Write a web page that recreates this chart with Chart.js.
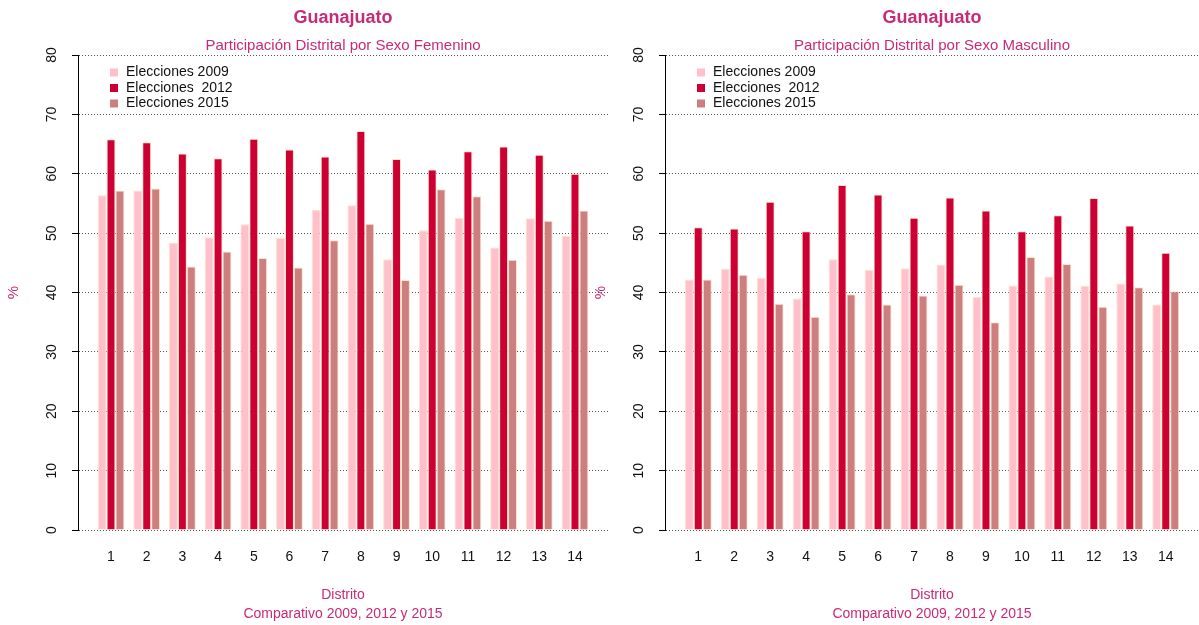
<!DOCTYPE html>
<html>
<head>
<meta charset="utf-8">
<script src="https://cdn.jsdelivr.net/npm/chart.js@4/dist/chart.umd.min.js"></script>
<style>
  html, body { margin: 0; padding: 0; background: #fff; overflow: hidden; }
  .panel { position: absolute; top: 0; }
</style>
</head>
<body>
<div class="panel" style="left:0px"><canvas id="chartFem" width="608" height="625"></canvas></div>
<div class="panel" style="left:587px"><canvas id="chartMas" width="612" height="625"></canvas></div>
<script>
const distritos = [1, 2, 3, 4, 5, 6, 7, 8, 9, 10, 11, 12, 13, 14];
const yTicks = [0, 10, 20, 30, 40, 50, 60, 70, 80];
const series = ['Elecciones 2009', 'Elecciones  2012', 'Elecciones 2015'];
const colores = ['#ffc0cb', '#cc0033', '#cd7f7f'];

// participacion femenina por distrito (%)
const fem2009 = [56.4, 57.2, 48.4, 49.3, 51.5, 49.2, 53.9, 54.7, 45.6, 50.5, 52.6, 47.6, 52.5, 49.5];
const fem2012 = [65.8, 65.3, 63.4, 62.6, 65.9, 64.1, 62.9, 67.2, 62.5, 60.7, 63.8, 64.6, 63.2, 60.0];
const fem2015 = [57.2, 57.5, 44.4, 46.9, 45.8, 44.2, 48.8, 51.6, 42.1, 57.4, 56.2, 45.5, 52.1, 53.8];

// participacion masculina por distrito (%)
const mas2009 = [42.2, 44.0, 42.5, 39.0, 45.6, 43.8, 44.1, 44.7, 39.3, 41.2, 42.7, 41.1, 41.5, 38.0];
const mas2012 = [51.0, 50.8, 55.3, 50.3, 58.1, 56.5, 52.6, 56.0, 53.8, 50.3, 53.0, 55.9, 51.3, 46.7];
const mas2015 = [42.2, 43.0, 38.1, 35.9, 39.7, 38.0, 39.5, 41.3, 35.0, 46.0, 44.8, 37.6, 40.9, 40.2];

const rosa = '#c82a7a';
Chart.defaults.font.family = "'Liberation Sans', Arial, sans-serif";
Chart.defaults.color = '#111';

// legend drawn inside the plot, top-left corner
const innerLegend = {
  id: 'innerLegend',
  afterDraw(chart) {
    const {ctx, chartArea} = chart;
    ctx.save();
    ctx.font = "14px 'Liberation Sans', Arial, sans-serif";
    ctx.textBaseline = 'middle';
    ctx.textAlign = 'left';
    chart.data.datasets.forEach((ds, i) => {
      const y = chartArea.top + 17.5 + i * 15.5;
      ctx.fillStyle = ds.backgroundColor;
      ctx.fillRect(chartArea.left + 32, y - 4, 8, 8);
      ctx.fillStyle = '#111';
      ctx.fillText(ds.label, chartArea.left + 48, y);
    });
    ctx.restore();
  }
};

function generateChart(chartName, subtitulo, valores) {
  const ctx = document.getElementById(chartName).getContext('2d');
  return new Chart(ctx, {
    type: 'bar',
    data: {
      datasets: valores.map((vals, i) => ({
        label: series[i],
        data: distritos.map((d, j) => ({x: d, y: vals[j]})),
        backgroundColor: colores[i],
        borderColor: '#fbe3c8',
        borderWidth: 1,
        categoryPercentage: 0.75,
        barPercentage: 1.0
      }))
    },
    options: {
      responsive: false,
      animation: false,
      layout: { padding: 0 },
      plugins: {
        legend: { display: false },
        tooltip: { enabled: false },
        title: {
          display: true,
          text: 'Guanajuato',
          fullSize: false,
          color: rosa,
          font: { size: 18, weight: 'bold' },
          padding: { top: 7.2, bottom: 8.2 }
        },
        subtitle: {
          display: true,
          text: subtitulo,
          fullSize: false,
          color: rosa,
          font: { size: 15 },
          padding: { top: 0, bottom: 0 }
        }
      },
      scales: {
        x: {
          type: 'linear',
          offset: false,
          min: 0.075,
          max: 14.925,
          afterBuildTicks: (scale) => { scale.ticks = distritos.map(v => ({value: v})); },
          afterFit: (scale) => { scale.height = 95; },
          grid: { display: false, drawTicks: false, offset: false },
          border: { display: false },
          ticks: { autoSkip: false, maxRotation: 0, padding: 19, font: { size: 14 } },
          title: {
            display: true,
            text: ['Distrito', 'Comparativo 2009, 2012 y 2015'],
            color: rosa,
            font: { size: 14, lineHeight: 1.357 },
            padding: { top: 0, bottom: 1.5 }
          }
        },
        y: {
          min: 0,
          max: 80,
          afterBuildTicks: (scale) => { scale.ticks = yTicks.map(v => ({value: v})); },
          afterFit: (scale) => { scale.width = 78; },
          grid: { color: '#555', lineWidth: 1, tickLength: 6, tickColor: '#000' },
          border: { display: true, color: '#000', width: 1, dash: [1, 2] },
          ticks: { minRotation: 90, maxRotation: 90, crossAlign: 'center', padding: 12, font: { size: 14 } },
          title: {
            display: true,
            text: '%',
            color: rosa,
            font: { size: 15 },
            padding: { top: 4.8, bottom: 0 }
          }
        }
      }
    },
    plugins: [innerLegend]
  });
}

generateChart('chartFem', 'Participación Distrital por Sexo Femenino', [fem2009, fem2012, fem2015]);
generateChart('chartMas', 'Participación Distrital por Sexo Masculino', [mas2009, mas2012, mas2015]);
</script>
</body>
</html>
